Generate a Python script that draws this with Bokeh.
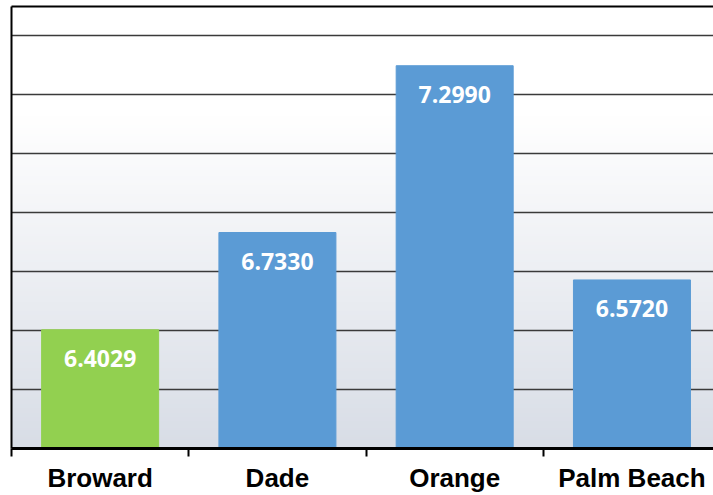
import numpy as np
from bokeh.plotting import figure
from bokeh.models import Range1d, FixedTicker, LinearAxis, ColumnDataSource
from bokeh.core.properties import value
from bokeh.embed import file_html
from bokeh.resources import INLINE

categories = ["Broward", "Dade", "Orange", "Palm Beach"]
values = [6.4029, 6.7330, 7.2990, 6.5720]
colors = ["#92D050", "#5B9BD5", "#5B9BD5", "#5B9BD5"]
y_min, y_max, y_step = 6.0, 7.5, 0.2

xs = [i + 0.5 for i in range(len(categories))]
src = ColumnDataSource(dict(x=xs, top=values, color=colors,
                            label=["%.4f" % v for v in values]))

p = figure(width=713, height=495, output_backend="svg", toolbar_location=None,
           x_range=Range1d(0, 3.96), y_range=Range1d(y_min, y_max),
           x_axis_location=None, y_axis_location=None,
           min_border_left=11, min_border_right=0, min_border_top=6,
           min_border_bottom=45)
p.outline_line_color = None
p.background_fill_color = "white"
p.border_fill_color = "white"

# background gradient (white at top, light grey-blue at bottom)
n = 200
t = np.linspace(0, 1, n)  # 0 bottom -> 1 top
top_c = np.array([255, 255, 255])
bot_c = np.array([216, 221, 230])
f = np.clip(t / 0.75, 0, 1)
cols = (bot_c[None, :] * (1 - f[:, None]) + top_c[None, :] * f[:, None]).astype(np.uint32)
img = np.empty((n, 1), dtype=np.uint32)
view = img.view(dtype=np.uint8).reshape((n, 1, 4))
view[:, 0, 0] = cols[:, 0]
view[:, 0, 1] = cols[:, 1]
view[:, 0, 2] = cols[:, 2]
view[:, 0, 3] = 255
p.image_rgba(image=[img], x=0, y=y_min, dw=4, dh=y_max - y_min, level="image")

# grid
grid_ticks = [round(y_min + y_step * k, 1) for k in range(1, 8)]
p.ygrid.ticker = FixedTicker(ticks=grid_ticks)
p.ygrid.grid_line_color = "#3a3a3a"
p.ygrid.grid_line_width = 1.5
p.xgrid.grid_line_color = None

p.vbar(x="x", top="top", bottom=0, width=0.66, color="color", source=src)

p.text(x="x", y="top", text="label", source=src, y_offset=29,
       text_align="center", text_baseline="middle", text_color="white",
       text_font=value("Open Sans"), text_font_style="bold", text_font_size="23px")

# axes
xax = LinearAxis(ticker=FixedTicker(ticks=xs, minor_ticks=[0, 1, 2, 3, 4]),
                 major_label_overrides={x: c for x, c in zip(xs, categories)})
xax.major_tick_line_color = None
xax.major_tick_out = 0
xax.major_tick_in = 0
xax.minor_tick_line_color = "black"
xax.minor_tick_line_width = 2
xax.minor_tick_out = 8
xax.minor_tick_in = 0
xax.axis_line_color = "black"
xax.axis_line_width = 3
xax.major_label_standoff = 6
xax.major_label_text_font = "Liberation Sans"
xax.major_label_text_font_style = "bold"
xax.major_label_text_font_size = "26px"
xax.major_label_text_color = "black"
p.add_layout(xax, "below")

yax = LinearAxis(ticker=FixedTicker(ticks=[]))
yax.major_tick_line_color = None
yax.minor_tick_line_color = None
yax.major_label_text_font_size = "0px"
yax.axis_line_color = "black"
yax.axis_line_width = 2
yax.major_tick_out = 0
yax.major_label_standoff = 0
p.add_layout(yax, "left")

tax = LinearAxis(ticker=FixedTicker(ticks=[]))
tax.major_tick_line_color = None
tax.minor_tick_line_color = None
tax.major_label_text_font_size = "0px"
tax.axis_line_color = "black"
tax.axis_line_width = 2
tax.major_tick_out = 0
tax.major_label_standoff = 0
p.add_layout(tax, "above")

open("out.html", "w").write(file_html(p, INLINE))
